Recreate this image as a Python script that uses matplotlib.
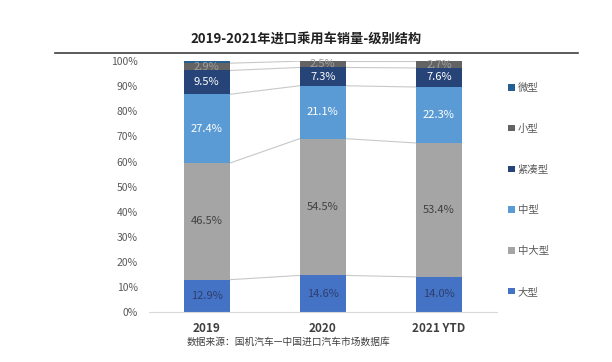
import matplotlib
matplotlib.use("Agg")
import matplotlib.pyplot as plt
from matplotlib.patches import Patch
from matplotlib.lines import Line2D
import numpy as np

plt.rcParams['font.family'] = ['Noto Sans CJK SC', 'DejaVu Sans']

categories = ["2019", "2020", "2021 YTD"]
series_names = ["大型", "中大型", "中型", "紧凑型", "小型", "微型"]
large = [12.9, 14.6, 14.0]
mid_large = [46.5, 54.5, 53.4]
mid = [27.4, 21.1, 22.3]
compact = [9.5, 7.3, 7.6]
small = [2.9, 2.5, 2.7]
micro = [0.8, 0.0, 0.0]
yticks = [0, 10, 20, 30, 40, 50, 60, 70, 80, 90, 100]
title = "2019-2021年进口乘用车销量-级别结构"
source = "数据来源：国机汽车—中国进口汽车市场数据库"

values = [large, mid_large, mid, compact, small, micro]
colors = ["#4472C4", "#A5A5A5", "#5B9BD5", "#264478", "#636363", "#255E91"]
label_colors = ["#2F3F6E", "#404040", "white", "white", "#A0A0A0", None]

fig = plt.figure(figsize=(6.12, 3.62), dpi=100)
ax = fig.add_axes([0.243, 0.138, 0.569, 0.693])

x = np.arange(len(categories))
width = 0.4
bottom = np.zeros(len(categories))
bounds = [bottom.copy()]
for vals, col, lc in zip(values, colors, label_colors):
    v = np.array(vals)
    ax.bar(x, v, width, bottom=bottom, color=col, zorder=2)
    if lc is not None:
        for xi, vi, bi in zip(x, v, bottom):
            ax.text(xi, bi + vi / 2, f"{vi:.1f}%", ha="center", va="center",
                    fontsize=8, color=lc, zorder=3)
    bottom = bottom + v
    bounds.append(bottom.copy())

# connector lines
for b in bounds[1:-1]:
    for i in range(len(categories) - 1):
        ax.plot([x[i] + width / 2, x[i + 1] - width / 2], [b[i], b[i + 1]],
                color="#C8C8C8", lw=0.8, zorder=1)

ax.set_xlim(-0.5, 2.5)
ax.set_ylim(0, 100)
ax.set_yticks(yticks)
ax.set_yticklabels([f"{t}%" for t in yticks], fontsize=7.5, color="#595959")
ax.set_xticks(x)
ax.set_xticklabels(categories, fontsize=8.5, fontweight="bold", color="#404040")
ax.tick_params(axis="both", length=0)
ax.tick_params(axis="x", pad=7)
ax.tick_params(axis="y", pad=8)
for s in ["top", "right", "left"]:
    ax.spines[s].set_visible(False)
ax.spines["bottom"].set_color("#D9D9D9")
ax.spines["bottom"].set_linewidth(0.8)

fig.text(0.5, 0.893, title, ha="center", va="center", fontsize=9.5,
         fontweight="bold", color="#202020")
fig.add_artist(Line2D([0.09, 0.945], [0.853, 0.853], color="#404040", lw=1.2))
fig.text(0.305, 0.055, source, ha="left", va="center", fontsize=7, color="#404040")

handles = [Patch(facecolor=c, edgecolor="none") for c in colors][::-1]
leg = fig.legend(handles, series_names[::-1], loc="upper left",
                 bbox_to_anchor=(0.822, 0.785), frameon=False, fontsize=7.5,
                 labelspacing=2.95, handlelength=0.6, handleheight=0.6,
                 handletextpad=0.3, borderpad=0)
for t in leg.get_texts():
    t.set_color("#595959")

fig.savefig("out.png", dpi=100)
